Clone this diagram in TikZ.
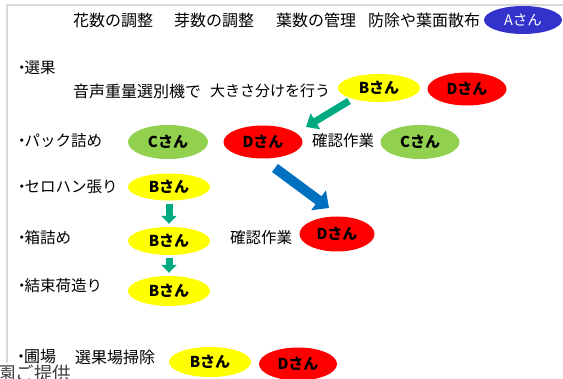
\documentclass[tikz,border=0pt]{standalone}
\usepackage{fontspec}
\newfontfamily\jp{Noto Sans CJK JP}
\usetikzlibrary{arrows.meta,shapes.geometric}
\definecolor{ayel}{RGB}{255,255,0}
\definecolor{ared}{RGB}{255,0,0}
\definecolor{agrn}{RGB}{146,208,80}
\definecolor{ablu}{RGB}{51,51,204}
\definecolor{arrgrn}{RGB}{0,170,128}
\definecolor{arrblu}{RGB}{0,112,192}
\definecolor{frame}{RGB}{217,217,217}
\definecolor{capgray}{RGB}{64,64,64}
\newcommand{\bul}{・\kern-5pt}
\begin{document}
\begin{tikzpicture}[x=1pt,y=-1pt,
  lbl/.style={anchor=west, inner sep=0pt, text=black, font=\jp\fontsize{15.5}{18}\selectfont},
  toplbl/.style={lbl, font=\jp\fontsize{16}{18}\selectfont},
  who/.style={ellipse, draw=none, inner sep=0pt, minimum width=82pt, minimum height=29pt, text=black, font=\jp\bfseries\fontsize{15}{18}\selectfont},
  bwho/.style={who, fill=ayel},
  dwho/.style={who, fill=ared, minimum width=79pt, minimum height=33pt},
  cwho/.style={who, fill=agrn, minimum width=80pt, minimum height=34pt},
  greenarr/.style={draw=arrgrn, line width=7pt, -{Triangle[width=18pt,length=11pt]}},
  downarr/.style={draw=arrgrn, line width=7pt, -{Triangle[width=15pt,length=8pt]}, shorten <=3pt, shorten >=3pt},
  bluearr/.style={draw=arrblu, line width=10pt, -{Triangle[width=24pt,length=13pt]}}
]
\useasboundingbox (0,0) rectangle (563,379);
% frame
\draw[frame, line width=2pt] (7,363) -- (7,5) -- (563,5);

% top row
\node[toplbl] (t1) at (73,20) {花数の調整};
\node[toplbl] (t2) at (174,20) {芽数の調整};
\node[toplbl] (t3) at (276,20) {葉数の管理};
\node[toplbl] (t4) at (368,20) {防除や葉面散布};
\node[who, fill=ablu, text=white, minimum width=78pt, minimum height=28pt, font=\jp\fontsize{14.5}{17}\selectfont] (a) at (523,20) {Aさん};

% 選果
\node[lbl] (s1) at (14,68) {\bul 選果};
\node[toplbl] (s2) at (73,91) {音声重量選別機で};
\node[lbl, font=\jp\fontsize{15}{18}\selectfont] (s3) at (210,91) {大きさ分けを行う};
\node[bwho, minimum height=28pt] (b1) at (379,88) {Bさん};
\node[dwho] (d1) at (467,89) {Dさん};

% パック詰め
\node[lbl] (p1) at (14,141) {\bul パック詰め};
\node[cwho] (c1) at (168,142) {Cさん};
\node[dwho] (d2) at (263,142) {Dさん};
\node[lbl] (p2) at (312,141) {確認作業};
\node[cwho, minimum width=79pt] (c2) at (420,142) {Cさん};

% セロハン張り
\node[lbl] (h1) at (14,187) {\bul セロハン張り};
\node[bwho, minimum height=27pt] (b2) at (169,187) {Bさん};

% 箱詰め
\node[lbl] (k1) at (14,238) {\bul 箱詰め};
\node[bwho, minimum height=28pt] (b3) at (169,241) {Bさん};
\node[lbl] (k2) at (230,238) {確認作業};
\node[dwho, minimum width=75pt, minimum height=35pt] (d3) at (337,234) {Dさん};

% 結束荷造り
\node[lbl] (m1) at (14,286) {\bul 結束荷造り};
\node[bwho, minimum height=30pt] (b4) at (169,291) {Bさん};

% 圃場
\node[lbl, font=\jp\fontsize{16}{18}\selectfont] (f1) at (13,357) {\bul 圃場};
\node[lbl, font=\jp\fontsize{16}{18}\selectfont] (f2) at (75,357) {選果場掃除};
\node[bwho, minimum height=30pt] (b5) at (210,362) {Bさん};
\node[dwho, minimum width=78pt, minimum height=33pt] (d5) at (298,364) {Dさん};

% caption (partly cut off, as in the source image)
\node[anchor=base west, inner sep=0pt, text=capgray, font=\jp\fontsize{18.5}{20}\selectfont] (cap) at (-3,381) {園ご提供};

% arrows
\coordinate (g1s) at (349,101);
\coordinate (g1e) at (306,127);
\draw[greenarr] (g1s) -- (g1e);
\coordinate (bls) at (275,168);
\coordinate (ble) at (329,208);
\draw[bluearr] (bls) -- (ble);
\draw[downarr] (b2.south) -- (b3.north);
\draw[downarr] (b3.south) -- (b4.north);
\end{tikzpicture}
\end{document}
